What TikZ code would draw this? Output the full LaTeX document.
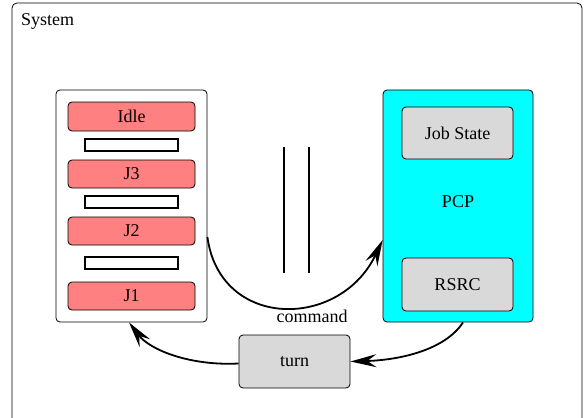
\documentclass[tikz,border=0pt]{standalone}
\usepackage{fontspec}
\setmainfont{Liberation Serif}
\usetikzlibrary{arrows.meta}
\definecolor{jobred}{HTML}{FF8080}
\definecolor{boxgray}{HTML}{D9D9D9}
\definecolor{pcpcyan}{HTML}{00FFFF}
\tikzset{bigtip/.tip={Stealth[length=26pt,width=13pt,inset=9pt]}}
\begin{document}
\begin{tikzpicture}[x=1pt,y=-1pt,
  every node/.style={font=\fontsize{18}{20}\selectfont},
  box/.style={draw, rounded corners=4pt, line width=0.8pt, inner sep=0pt},
  job/.style={box, fill=jobred, minimum width=127pt, minimum height=28pt},
  bar/.style={draw, line width=1.8pt, fill=white, minimum width=93pt, minimum height=12pt, inner sep=0pt},
  gbox/.style={box, fill=boxgray, minimum width=111pt, minimum height=53pt},
  conn/.style={line width=1.8pt, -bigtip}
]
\useasboundingbox (0,0) rectangle (585,417);
\clip (0,0) rectangle (585,417);
% system frame
\draw[line width=0.8pt, rounded corners=5pt] (12,3) rectangle (582,440);
\node[anchor=base west, inner sep=0pt] (systemlabel) at (21,26) {System};

% left container
\node[box, fill=white, minimum width=151pt, minimum height=232pt] (queue) at (131.5,206) {};
\node[job, minimum height=29pt] (idle) at (131.5,116.5) {Idle};
\node[bar] (bar1) at (131.5,145) {};
\node[job] (j3) at (131.5,174) {J3};
\node[bar] (bar2) at (131.5,202) {};
\node[job] (j2) at (131.5,231) {J2};
\node[bar] (bar3) at (131.5,263) {};
\node[job] (j1) at (131.5,296) {J1};

% PCP container
\node[box, fill=pcpcyan, minimum width=150pt, minimum height=232pt] (pcp) at (458,206) {};
\node[gbox, minimum height=52pt] (jobstate) at (457.5,133) {Job State};
\node[gbox] (rsrc) at (457.5,284.5) {RSRC};
\node (pcplabel) at (458,202) {PCP};

% turn
\node[gbox] (turn) at (294.5,361.5) {turn};

% parallel lines
\draw[line width=1.6pt] (284,147) -- (284,273);
\draw[line width=1.6pt] (309,147) -- (309,273);

% connectors
\draw[conn] ([yshift=-31pt]queue.east) .. controls (220,330) and (340,330) .. ([yshift=-34pt]pcp.west);
\node[anchor=base] (command) at (312,322) {command};
\draw[conn] ([xshift=5pt]pcp.south) .. controls (445,350) and (400,360) .. (turn.east);
\draw[conn] ([yshift=-2pt]turn.west) .. controls (190,366) and (150,350) .. ([xshift=-2.5pt]queue.south);
\end{tikzpicture}
\end{document}
